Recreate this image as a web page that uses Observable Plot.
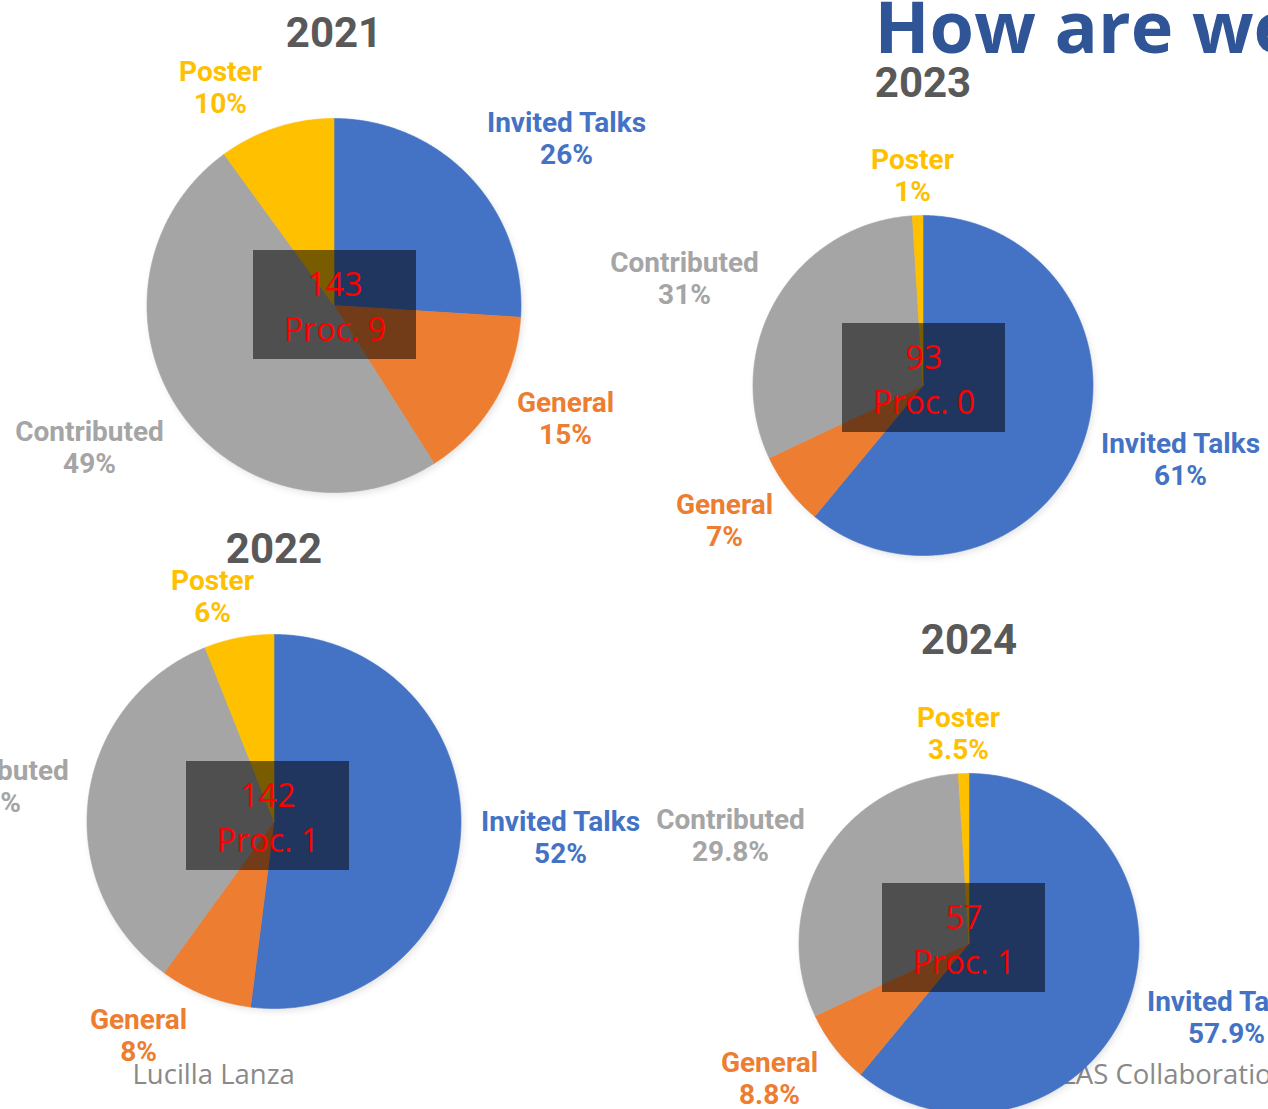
<!DOCTYPE html>
<html>
<head>
<meta charset="utf-8">
<script src="https://cdn.jsdelivr.net/npm/d3@7"></script>
<script src="https://cdn.jsdelivr.net/npm/@observablehq/plot@0.6"></script>
<style>
  html, body { margin: 0; padding: 0; background: #ffffff; overflow: hidden; }
  #chart { width: 1268px; height: 1109px; overflow: hidden; }
</style>
</head>
<body>
<div id="chart"></div>
<script>
// ---- data ----
const categories = ["Invited Talks", "General", "Contributed", "Poster"];
const categoryColors = ["#4472C4", "#ED7D31", "#A5A5A5", "#FFC000"];
const years = ["2021", "2022", "2023", "2024"];
// slice sizes (percent) as drawn in each pie
const share2021 = [26, 15, 49, 10];
const share2022 = [52, 8, 34, 6];
const share2023 = [61, 7, 31, 1];
const share2024 = [61, 7, 31, 1];
// percentage labels as printed
const labels2021 = ["26%", "15%", "49%", "10%"];
const labels2022 = ["52%", "8%", "34%", "6%"];
const labels2023 = ["61%", "7%", "31%", "1%"];
const labels2024 = ["57.9%", "8.8%", "29.8%", "3.5%"];
// totals and proceedings per year
const totals = [143, 142, 93, 57];
const proceedings = [9, 1, 0, 1];
const title = "How are we";
const author = "Lucilla Lanza";
const footerRight = "ATLAS Collaboration";

// ---- layout (slide coordinates) ----
const shares = [share2021, share2022, share2023, share2024];
const pctLabels = [labels2021, labels2022, labels2023, labels2024];
const pies = [
  {cx: 333.5, cy: 305, r: 187, titleDy: -259, box: [1, -0.5]},
  {cx: 273.5, cy: 821, r: 187, titleDy: -259, box: [-6, -5.5]},
  {cx: 922.5, cy: 385, r: 170, titleDy: -289, box: [1, -7.5]},
  {cx: 968.5, cy: 943, r: 170, titleDy: -290, box: [-5, -5.5]}
];
// label block offsets from pie centre: [Invited, General, Contributed, Poster]
const labelOffsets = [
  [[232.5, -168], [231.5, 112], [-244.5, 141], [-113.5, -219]],
  [[286.5, 15], [-135.5, 213], [-279.5, -36], [-61.5, -226]],
  [[257.5, 73], [-198.5, 134], [-238.5, -108], [-10.5, -211]],
  [[257.5, 73], [-199.5, 134], [-238.5, -109], [-10.5, -211]]
];

// wedge outlines built from the shares
const wedgeRows = [];
const labelRows = [];
years.forEach((yr, i) => {
  const p = pies[i];
  const arcs = d3.pie().sort(null).value(d => d)(shares[i]);
  arcs.forEach((a, k) => {
    const key = yr + "-" + k;
    wedgeRows.push({key, cat: categories[k], x: p.cx, y: p.cy});
    const n = Math.max(2, Math.ceil((a.endAngle - a.startAngle) / (Math.PI / 360)));
    for (let j = 0; j <= n; j++) {
      const t = a.startAngle + (a.endAngle - a.startAngle) * j / n;
      wedgeRows.push({key, cat: categories[k], x: p.cx + p.r * Math.sin(t), y: p.cy - p.r * Math.cos(t)});
    }
    wedgeRows.push({key, cat: categories[k], x: p.cx, y: p.cy});
    const off = labelOffsets[i][k];
    labelRows.push({
      text: categories[k] + "\n" + pctLabels[i][k],
      color: categoryColors[k],
      x: p.cx + off[0], y: p.cy + off[1]
    });
  });
});

const titleRows = years.map((yr, i) => ({text: yr, x: pies[i].cx, y: pies[i].cy + pies[i].titleDy}));
const boxRows = years.map((yr, i) => ({
  x1: pies[i].cx + pies[i].box[0] - 81.5, x2: pies[i].cx + pies[i].box[0] + 81.5,
  y1: pies[i].cy + pies[i].box[1] - 54.5, y2: pies[i].cy + pies[i].box[1] + 54.5,
  text: totals[i] + "\nProc. " + proceedings[i],
  tx: pies[i].cx + pies[i].box[0], ty: pies[i].cy + pies[i].box[1] - 1
}));
const shadowRows = pies.map(p => ({x: p.cx + 2, y: p.cy + 3, r: p.r}));

const marks = [
  // footer texts (behind pies)
  Plot.text([{t: author}], {x: () => 132, y: () => 1083, text: "t", textAnchor: "start", lineAnchor: "bottom",
    fontFamily: "Open Sans", fontSize: 27.5, fill: "#898989"}),
  Plot.text([{t: footerRight}], {x: () => 1288, y: () => 1083, text: "t", textAnchor: "end", lineAnchor: "bottom",
    fontFamily: "Open Sans", fontSize: 27.5, fill: "#898989"}),
  // soft shadow
  Plot.dot(shadowRows, {x: "x", y: "y", r: "r", fill: "#000", fillOpacity: 0.10, stroke: "none",
    render: (index, scales, values, dims, ctx, next) => {
      const g = next(index, scales, values, dims, ctx);
      g.setAttribute("filter", "url(#pieblur)");
      const defs = document.createElementNS("http://www.w3.org/2000/svg", "defs");
      defs.innerHTML = '<filter id="pieblur" x="-20%" y="-20%" width="140%" height="140%"><feGaussianBlur stdDeviation="3"/></filter>';
      g.insertBefore(defs, g.firstChild);
      return g;
    }})
];
categories.forEach((c, k) => {
  marks.push(Plot.line(wedgeRows.filter(d => d.cat === c), {
    x: "x", y: "y", z: "key", fill: categoryColors[k], stroke: categoryColors[k], strokeWidth: 0.6, curve: "linear"
  }));
});
marks.push(
  Plot.rect(boxRows, {x1: "x1", x2: "x2", y1: "y1", y2: "y2", fill: "#000", fillOpacity: 0.52}),
  Plot.text(boxRows, {x: "tx", y: "ty", text: "text", fill: "#FF0000", fontFamily: "Open Sans",
    fontSize: 32, lineHeight: 1.42, lineAnchor: "middle"}),
  Plot.text(labelRows, {x: "x", y: "y", text: "text", fill: "color", fontFamily: "Roboto",
    fontWeight: "bold", fontSize: 28, lineHeight: 1.15, lineAnchor: "middle"}),
  Plot.text(titleRows, {x: "x", y: "y", text: "text", fill: "#595959", fontFamily: "Roboto",
    fontWeight: "bold", fontSize: 42, lineAnchor: "bottom"}),
  Plot.text([{t: title}], {x: () => 874, y: () => 52, text: "t", textAnchor: "start", lineAnchor: "bottom",
    fill: "#2F5597", fontFamily: "Open Sans", fontWeight: "bold", fontSize: 72})
);

const chart = Plot.plot({
  width: 1268,
  height: 1109,
  margin: 0,
  x: {domain: [0, 1268], range: [0, 1268], axis: null},
  y: {domain: [0, 1109], range: [0, 1109], axis: null},
  color: {type: "identity"},
  r: {type: "identity"},
  style: {background: "#ffffff", overflow: "hidden"},
  marks
});
document.getElementById("chart").appendChild(chart);
</script>
</body>
</html>
